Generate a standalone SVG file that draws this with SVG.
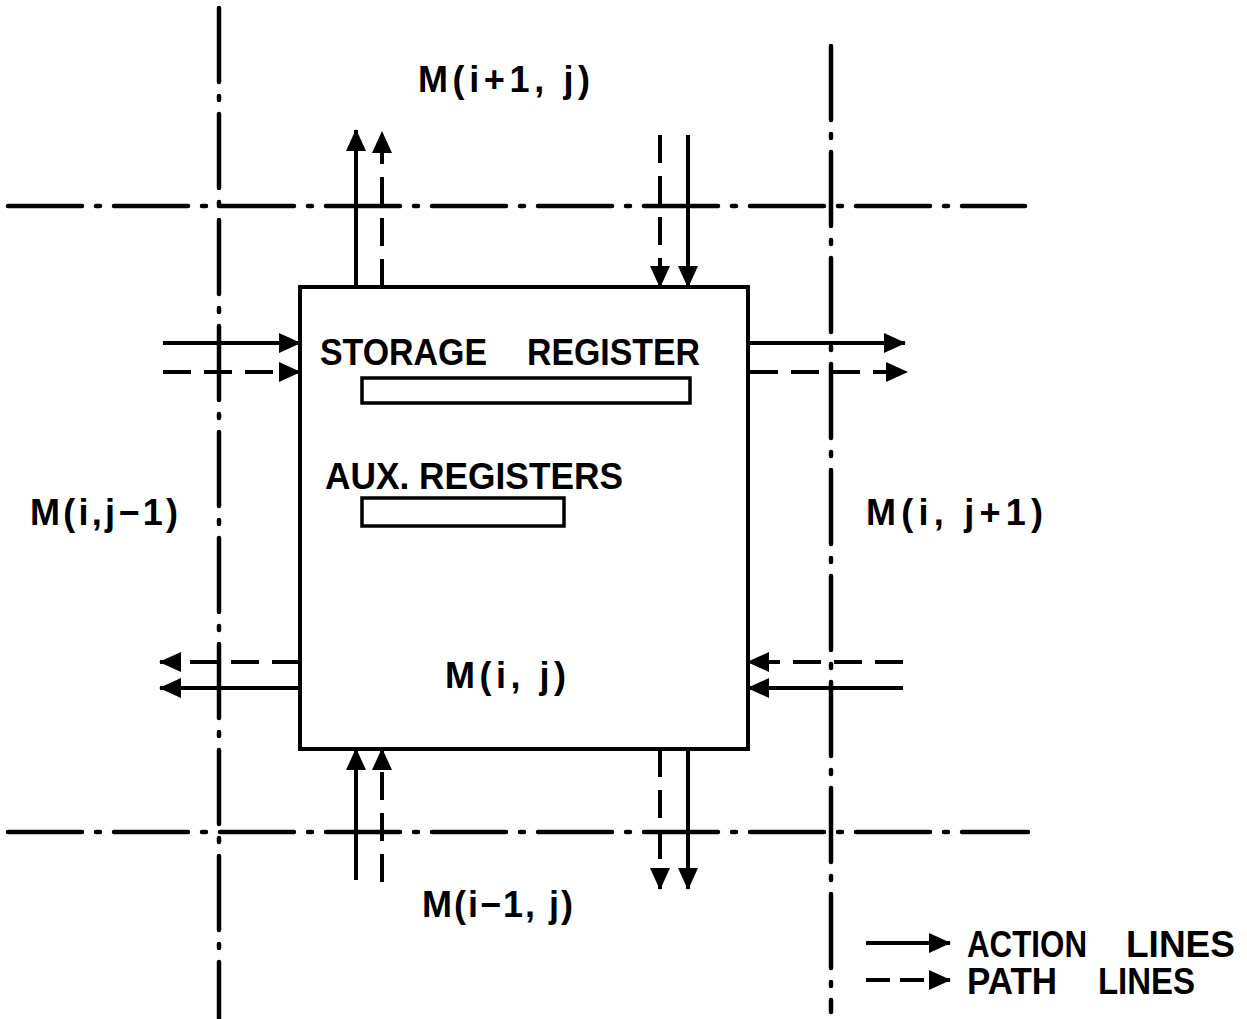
<svg xmlns="http://www.w3.org/2000/svg" width="1247" height="1019" viewBox="0 0 1247 1019">
<style>
.grid{stroke:#000;stroke-width:4.5;fill:none;stroke-linecap:round;stroke-dasharray:74 14 4 14}
.act{stroke:#000;stroke-width:4;fill:none}
.path{stroke:#000;stroke-width:4;fill:none;stroke-dasharray:28 13}
.box{stroke:#000;stroke-width:4;fill:#fff}
.reg{stroke:#000;stroke-width:3.5;fill:#fff}
text{font-family:"Liberation Sans",Arial,sans-serif;font-size:36px;font-weight:bold;fill:#000}
</style>
<defs>
<marker id="ah" viewBox="0 0 22 20" refX="21" refY="10" markerWidth="22" markerHeight="20" markerUnits="userSpaceOnUse" orient="auto">
<path d="M0,0 L22,10 L0,20 Z" fill="#000"/>
</marker>
</defs>
<g id="grid">
<line class="grid" x1="219" y1="8" x2="219" y2="1019"/>
<line class="grid" x1="831" y1="46" x2="831" y2="1012"/>
<line class="grid" x1="8" y1="206" x2="1025" y2="206"/>
<line class="grid" x1="8" y1="832" x2="1028" y2="832"/>
</g>
<g id="cell">
<rect class="box" x="300" y="287" width="448" height="462"/>
<text y="365"><tspan x="320" textLength="167" lengthAdjust="spacingAndGlyphs">STORAGE</tspan><tspan x="527" textLength="173" lengthAdjust="spacingAndGlyphs">REGISTER</tspan></text>
<rect class="reg" x="362" y="378" width="328" height="25"/>
<text x="325" y="489" textLength="298" lengthAdjust="spacingAndGlyphs">AUX. REGISTERS</text>
<rect class="reg" x="362" y="498" width="202" height="28"/>
<text x="445" y="688" textLength="121" lengthAdjust="spacing">M(i, j)</text>
</g>
<g id="labels">
<text x="418" y="92" textLength="172" lengthAdjust="spacing">M(i+1, j)</text>
<text x="30" y="525" textLength="148" lengthAdjust="spacing">M(i,j−1)</text>
<text x="866" y="525" textLength="177" lengthAdjust="spacing">M(i, j+1)</text>
<text x="422" y="917" textLength="151" lengthAdjust="spacing">M(i−1, j)</text>
</g>
<g id="connectors">
<line class="act" x1="356" y1="287" x2="356" y2="130" marker-end="url(#ah)"/>
<line class="path" x1="382" y1="287" x2="382" y2="132" marker-end="url(#ah)"/>
<line class="path" x1="660" y1="135" x2="660" y2="287" marker-end="url(#ah)"/>
<line class="act" x1="688" y1="135" x2="688" y2="287" marker-end="url(#ah)"/>
<line class="act" x1="163" y1="343" x2="300" y2="343" marker-end="url(#ah)"/>
<line class="path" x1="163" y1="372" x2="300" y2="372" marker-end="url(#ah)"/>
<line class="act" x1="748" y1="343" x2="905" y2="343" marker-end="url(#ah)"/>
<line class="path" x1="750" y1="372" x2="907" y2="372" marker-end="url(#ah)"/>
<line class="path" x1="300" y1="662" x2="160" y2="662" marker-end="url(#ah)"/>
<line class="act" x1="300" y1="688" x2="160" y2="688" marker-end="url(#ah)"/>
<line class="path" x1="903" y1="662" x2="748" y2="662" marker-end="url(#ah)"/>
<line class="act" x1="903" y1="688" x2="748" y2="688" marker-end="url(#ah)"/>
<line class="act" x1="356" y1="880" x2="356" y2="749" marker-end="url(#ah)"/>
<line class="path" x1="382" y1="882" x2="382" y2="749" marker-end="url(#ah)"/>
<line class="path" x1="660" y1="749" x2="660" y2="889" marker-end="url(#ah)"/>
<line class="act" x1="688" y1="749" x2="688" y2="889" marker-end="url(#ah)"/>
</g>
<g id="legend">
<line class="act" x1="866" y1="943" x2="950" y2="943" marker-end="url(#ah)"/>
<line class="path" x1="866" y1="980" x2="950" y2="980" style="stroke-dasharray:24 10" marker-end="url(#ah)"/>
<text y="957"><tspan x="967" textLength="120" lengthAdjust="spacingAndGlyphs">ACTION</tspan><tspan x="1126" textLength="109" lengthAdjust="spacingAndGlyphs">LINES</tspan></text>
<text y="994"><tspan x="967" textLength="90" lengthAdjust="spacingAndGlyphs">PATH</tspan><tspan x="1098" textLength="97" lengthAdjust="spacingAndGlyphs">LINES</tspan></text>
</g>
</svg>
